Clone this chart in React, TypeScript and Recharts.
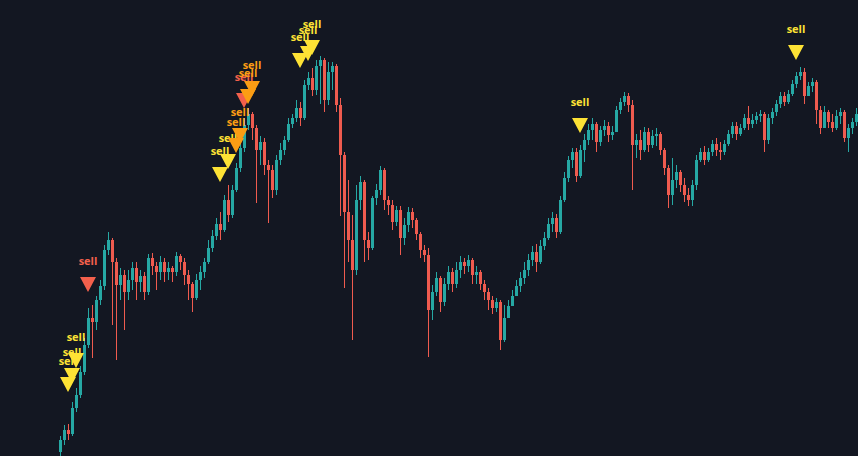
import React from 'react';
import { ComposedChart, Bar, XAxis, YAxis, ReferenceDot } from 'recharts';

// price path, one entry per candle
const firstOpen = 4;
const closes = [
  16, 26, 22, 48, 61, 84, 111, 138, 134, 156,
  170, 206, 216, 194, 171, 181, 164, 176, 188, 174,
  180, 164, 198, 190, 184, 194, 184, 188, 184, 200,
  194, 181, 172, 158, 176, 184, 194, 208, 220, 232,
  226, 256, 241, 266, 288, 308, 331, 342, 328, 306,
  314, 291, 286, 266, 296, 306, 316, 332, 338, 348,
  338, 371, 378, 366, 390, 396, 356, 384, 390, 351,
  301, 244, 216, 186, 256, 274, 216, 208, 258, 266,
  286, 256, 251, 234, 246, 218, 231, 244, 236, 222,
  206, 201, 146, 164, 178, 154, 172, 184, 172, 186,
  194, 190, 196, 181, 184, 172, 164, 156, 148, 154,
  116, 138, 150, 160, 170, 178, 186, 196, 204, 194,
  210, 218, 232, 238, 224, 256, 278, 296, 304, 280,
  306, 316, 326, 332, 314, 326, 330, 321, 324, 346,
  354, 360, 351, 311, 316, 306, 324, 311, 320, 322,
  306, 288, 261, 276, 284, 271, 261, 256, 271, 296,
  304, 296, 304, 312, 306, 304, 312, 322, 330, 322,
  328, 338, 332, 336, 340, 342, 316, 338, 344, 352,
  360, 354, 362, 372, 380, 384, 360, 370, 374, 346,
  328, 344, 334, 328, 340, 344, 318, 328, 334, 342,
];
const highs = [
  20, 31, 32, 54, 68, 90, 118, 148, 151, 160,
  176, 211, 224, 218, 198, 188, 186, 186, 194, 194,
  186, 184, 202, 203, 194, 200, 198, 194, 190, 204,
  202, 198, 186, 174, 182, 190, 198, 216, 226, 238,
  244, 261, 271, 271, 293, 316, 338, 348, 344, 331,
  320, 318, 296, 291, 301, 313, 320, 338, 342, 356,
  354, 376, 384, 388, 396, 400, 398, 394, 394, 392,
  358, 304, 276, 241, 271, 280, 276, 224, 260, 272,
  290, 288, 260, 256, 250, 250, 238, 249, 248, 238,
  224, 211, 208, 171, 184, 180, 178, 190, 188, 194,
  200, 198, 201, 198, 190, 186, 176, 168, 160, 158,
  156, 151, 156, 166, 176, 184, 194, 202, 210, 212,
  216, 224, 238, 244, 242, 260, 284, 300, 308, 308,
  311, 322, 332, 338, 334, 330, 336, 334, 330, 350,
  358, 364, 363, 356, 322, 326, 329, 328, 326, 328,
  324, 308, 291, 298, 291, 286, 278, 268, 276, 301,
  308, 310, 308, 316, 318, 314, 316, 326, 334, 334,
  332, 342, 350, 342, 344, 346, 344, 342, 348, 356,
  364, 364, 366, 376, 384, 389, 388, 374, 378, 376,
  350, 350, 346, 342, 346, 348, 346, 332, 338, 348,
];
const lows = [
  0, 11, 16, 20, 44, 58, 81, 108, 98, 126,
  151, 166, 201, 131, 96, 156, 126, 156, 166, 156,
  164, 156, 161, 181, 166, 176, 174, 176, 174, 180,
  186, 171, 156, 144, 156, 166, 178, 192, 204, 216,
  216, 224, 234, 238, 264, 284, 304, 326, 316, 253,
  291, 281, 233, 258, 261, 291, 301, 314, 328, 334,
  330, 336, 366, 360, 361, 352, 344, 351, 366, 344,
  240, 168, 194, 116, 181, 246, 194, 196, 206, 251,
  261, 246, 241, 226, 230, 201, 211, 224, 228, 216,
  198, 194, 99, 136, 160, 144, 150, 166, 164, 168,
  178, 182, 184, 172, 172, 166, 156, 146, 142, 144,
  106, 114, 140, 150, 160, 164, 172, 180, 190, 184,
  192, 206, 216, 224, 218, 222, 254, 274, 288, 274,
  278, 294, 311, 316, 304, 310, 320, 314, 316, 326,
  342, 350, 344, 266, 298, 296, 304, 304, 308, 310,
  301, 281, 248, 251, 268, 264, 254, 250, 250, 266,
  294, 291, 294, 300, 300, 296, 301, 310, 318, 316,
  320, 326, 326, 328, 332, 334, 304, 312, 332, 340,
  348, 350, 352, 360, 368, 376, 352, 360, 364, 332,
  322, 328, 328, 324, 326, 332, 314, 304, 322, 330,
];

// sell signals: candle index, price level of the arrow tip, grade (1 = weak, 2 = mid, 3 = strong)
const sellIdx = [2, 3, 4, 7, 40, 42, 44, 45, 46, 47, 48, 60, 62, 63, 130, 184];
const sellLevel = [64, 73, 88, 164, 274, 287, 303, 313, 348, 352, 360, 388, 395, 401, 323, 396];
const sellGrade = [1, 1, 1, 3, 1, 1, 2, 2, 3, 2, 2, 1, 1, 1, 1, 1];

const BULL = '#26a8a4';
const BEAR = '#ef5b4f';
const GRADE_COLORS: Record<number, string> = { 1: '#fde235', 2: '#fb9d14', 3: '#f3604c' };

const data = closes.map((c, i) => ({
  i,
  open: i === 0 ? firstOpen : closes[i - 1],
  close: c,
  high: highs[i],
  low: lows[i],
}));

const Candle = (props: any) => {
  const { x, y, width, height, payload } = props;
  const { open, close, high, low } = payload;
  const top = Math.min(y, y + height);
  const h = Math.abs(height);
  const k = high === low ? 0 : h / (high - low);
  const yO = top + (high - open) * k;
  const yC = top + (high - close) * k;
  const color = close >= open ? BULL : BEAR;
  const cx = x + width / 2;
  return (
    <g>
      <rect x={cx - 0.5} y={top} width={1} height={Math.max(1, h)} fill={color} />
      <rect x={x} y={Math.min(yO, yC)} width={width} height={Math.max(1, Math.abs(yC - yO))} fill={color} />
    </g>
  );
};

const SellMarker = ({ cx, cy, color }: { cx: number; cy: number; color: string }) => (
  <g>
    <path d={`M${cx - 8},${cy - 15} L${cx + 8},${cy - 15} L${cx},${cy} Z`} fill={color} />
    <text
      x={cx}
      y={cy - 27}
      textAnchor="middle"
      fill={color}
      fontSize={11}
      fontWeight={700}
      fontFamily="'Open Sans', sans-serif"
    >
      sell
    </text>
  </g>
);

export default function App() {
  return (
    <div style={{ position: 'fixed', left: 0, top: 0, width: 858, height: 456, background: '#131722' }}>
      <ComposedChart width={858} height={456} data={data} margin={{ top: 0, right: 0, bottom: 0, left: 0 }}>
        <XAxis dataKey="i" hide padding={{ left: 58, right: 0 }} />
        <YAxis hide domain={[0, 456]} />
        <Bar
          dataKey={(d: any) => [d.low, d.high]}
          barSize={3}
          shape={Candle}
          isAnimationActive={false}
        />
        {sellIdx.map((idx, k) => (
          <ReferenceDot
            key={`sell-${k}`}
            x={idx}
            y={sellLevel[k]}
            ifOverflow="visible"
            shape={(p: any) => <SellMarker cx={p.cx} cy={p.cy} color={GRADE_COLORS[sellGrade[k]]} />}
          />
        ))}
      </ComposedChart>
    </div>
  );
}
